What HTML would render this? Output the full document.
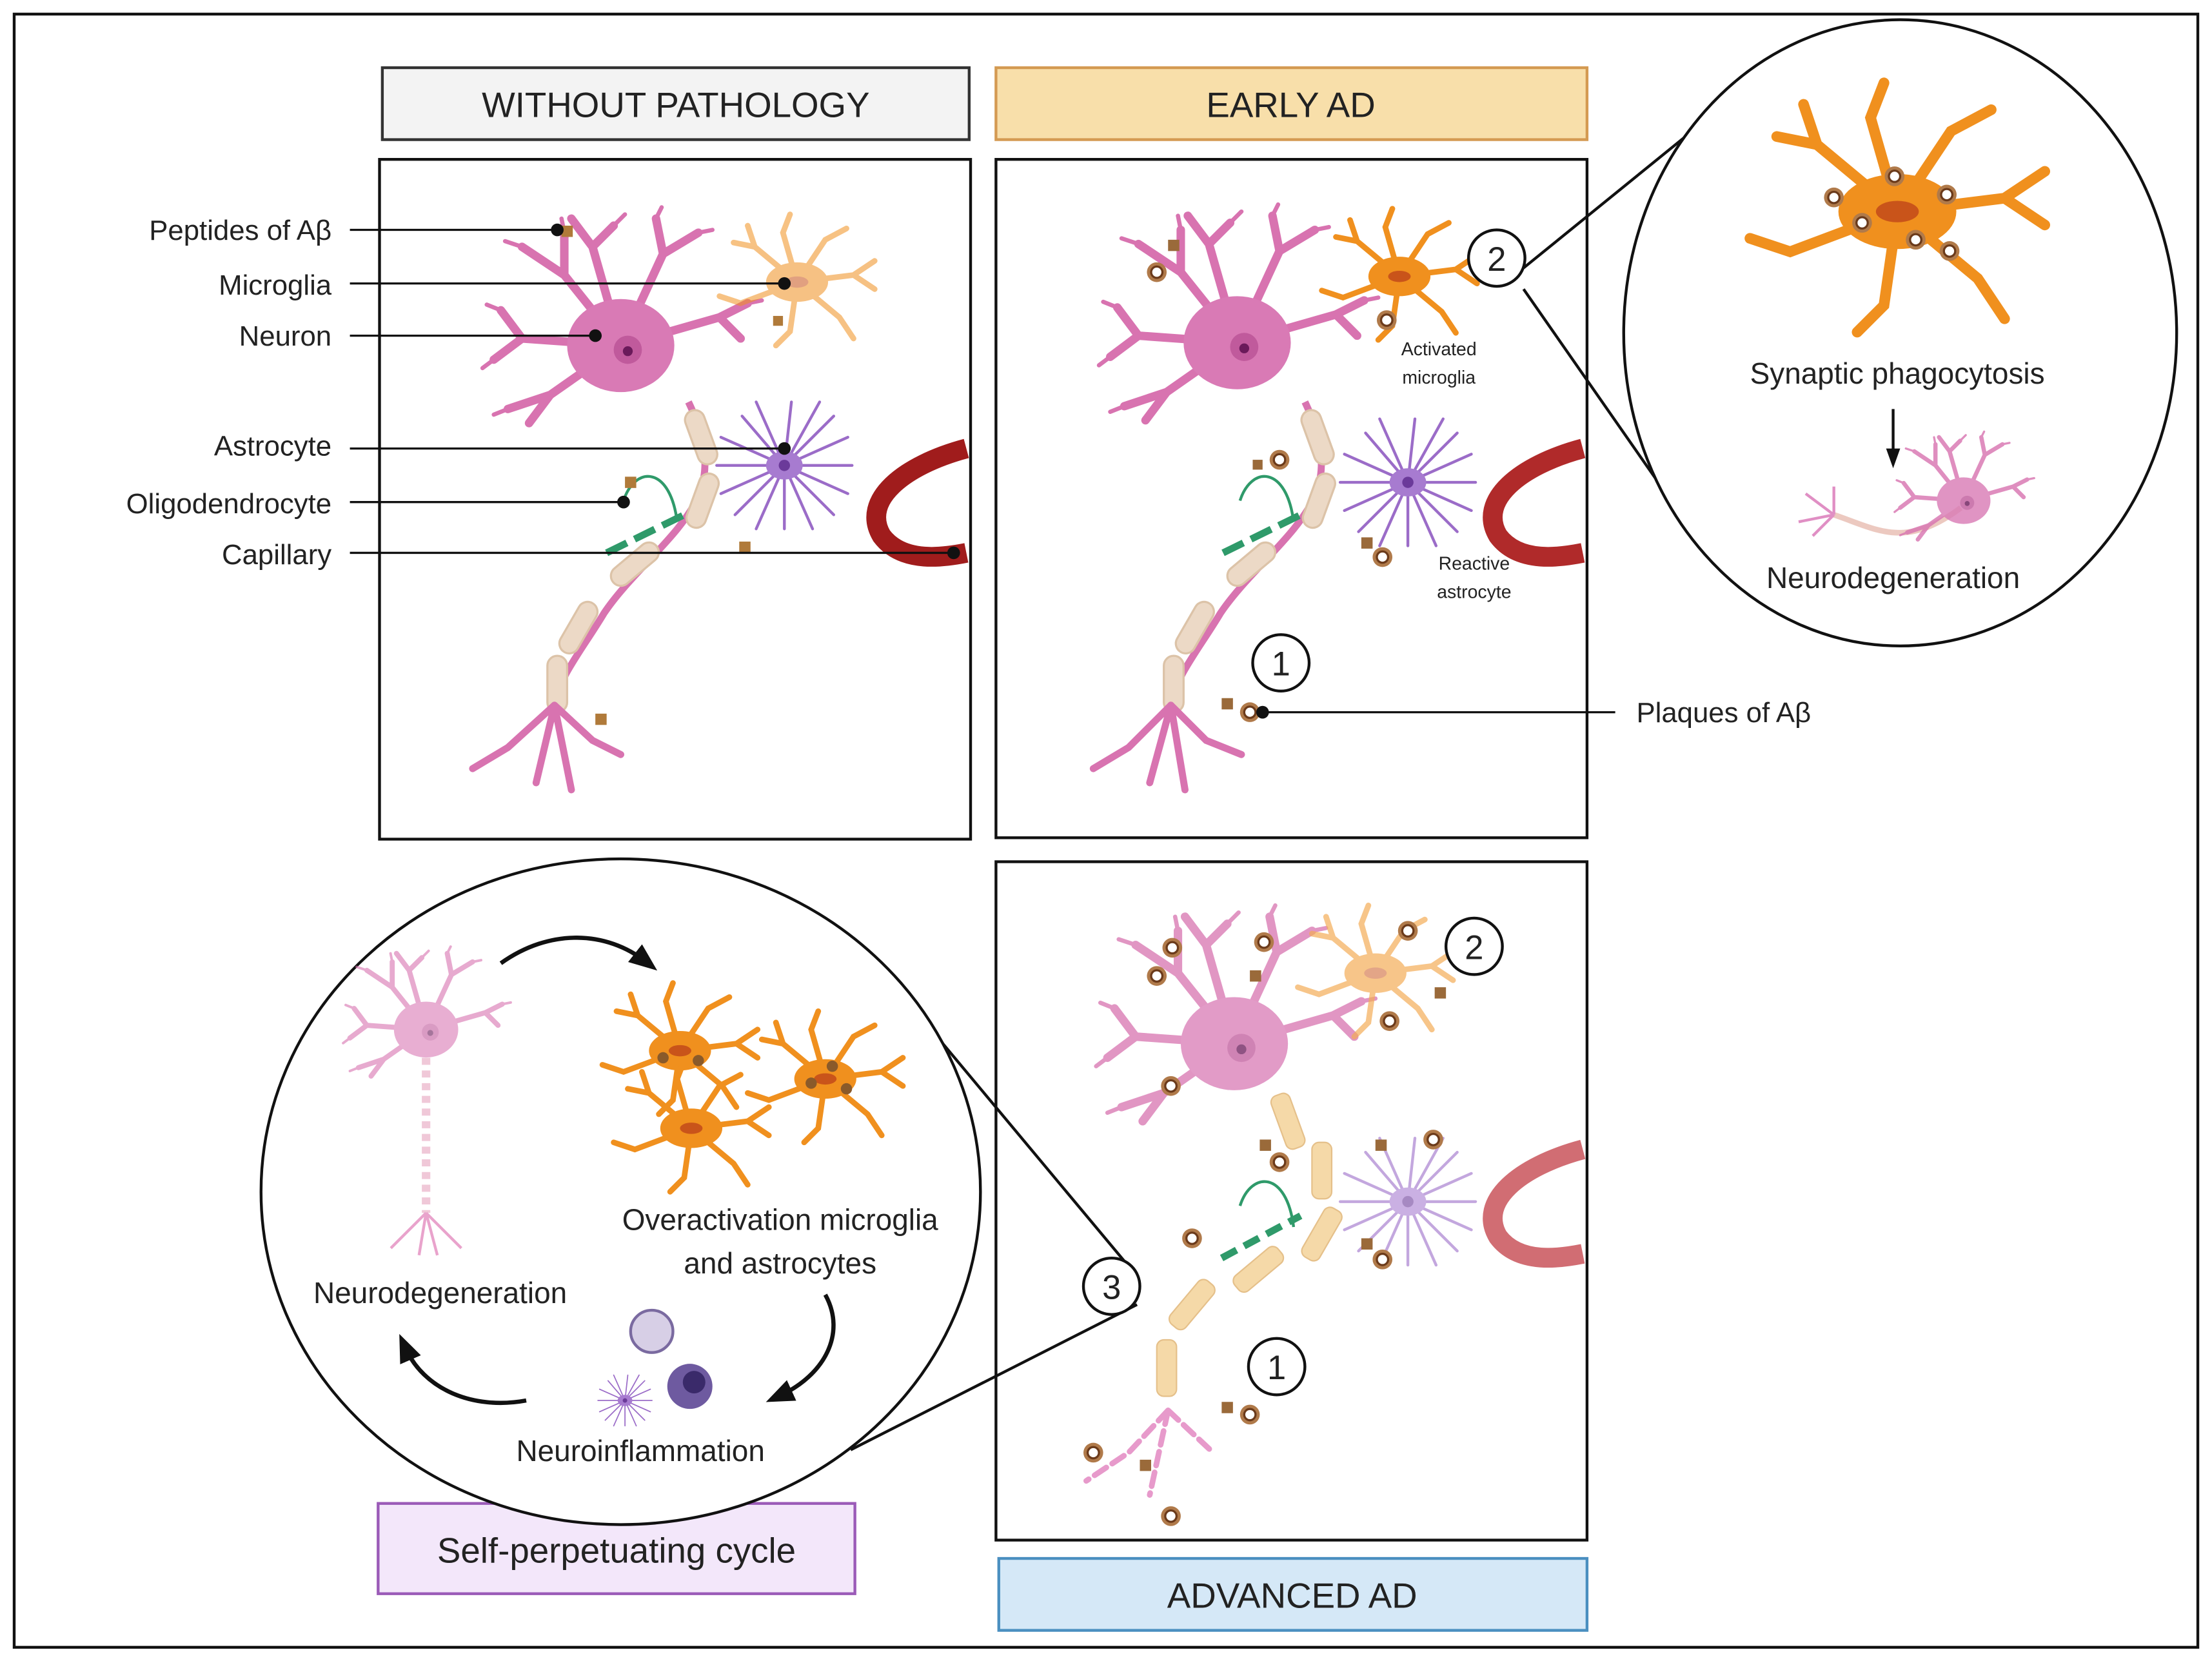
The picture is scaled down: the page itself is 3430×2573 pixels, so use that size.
<!DOCTYPE html>
<html><head><meta charset="utf-8"><style>
html,body{margin:0;padding:0;background:#fff}
svg{display:block}
text{font-family:"Liberation Sans",sans-serif;fill:#222}
</style></head><body>
<svg width="3430" height="2573" viewBox="0 0 1568 1176.3" xmlns="http://www.w3.org/2000/svg">
<defs>
<g id="neuron">
 <g stroke="#d873b0" stroke-linecap="round" fill="none">
  <path d="M0,0 L-40,-50 L-70,-70 M-40,-50 L-40,-80 M0,0 L-20,-70 L-5,-85 M-20,-70 L-35,-90 M0,0 L30,-65 L25,-90 M30,-65 L55,-80 M0,0 L70,-20 L90,-30 M70,-20 L85,-5 M0,0 L-70,-5 L-90,10 M-70,-5 L-85,-25 M0,0 L-50,35 L-80,45 M-50,35 L-65,55" stroke-width="6"/>
  <path d="M-70,-70 l-12,-4 M-40,-80 l-2,-10 M-5,-85 l8,-8 M25,-90 l4,-8 M55,-80 l10,-2 M90,-30 l10,-2 M-90,10 l-8,6 M-85,-25 l-10,-4 M-80,45 l-10,4" stroke-width="3"/>
 </g>
 <ellipse cx="0" cy="0" rx="38" ry="33" fill="#d97ab5"/>
 <circle cx="5" cy="3" r="10" fill="#c05a9c"/>
 <circle cx="5" cy="4" r="3.5" fill="#6a1a5a"/>
</g>
<g id="micro">
 <g stroke="#f0901e" stroke-width="4" stroke-linecap="round" fill="none">
  <path d="M0,0 L-30,-25 L-45,-28 M-30,-25 L-35,-40 M0,0 L-10,-35 L-5,-48 M0,0 L20,-30 L35,-38 M0,0 L40,-5 L55,-15 M40,-5 L55,5 M0,0 L30,25 L40,40 M0,0 L-5,35 L-15,45 M0,0 L-40,15 L-55,10"/>
 </g>
 <ellipse cx="0" cy="0" rx="22" ry="14" fill="#f0901e"/>
 <ellipse cx="0" cy="0" rx="8" ry="4" fill="#c9541a"/>
</g>
<g id="astro">
 <g stroke="#9b6cc8" stroke-width="2" stroke-linecap="round" fill="none">
  <path d="M0,0 L-30,-35 M0,0 L5,-45 M0,0 L35,-35 M0,0 L48,0 M0,0 L35,35 M0,0 L0,45 M0,0 L-35,35 M0,0 L-48,0 M0,0 L-20,-45 M0,0 L25,-45 M0,0 L45,-20 M0,0 L45,20 M0,0 L20,45 M0,0 L-20,45 M0,0 L-45,20 M0,0 L-45,-20"/>
 </g>
 <ellipse cx="0" cy="0" rx="13" ry="10" fill="#a77bd0"/>
 <circle cx="0" cy="0" r="4" fill="#6b3a9a"/>
</g>
<g id="plaque"><circle r="7" fill="#b07a4a"/><circle r="4" fill="#fff" stroke="#6b3a1a" stroke-width="1.5"/></g>
<g id="axon">
 <path d="M0,0 C12,25 15,45 8,65 C-5,95 -40,120 -60,150 C-75,175 -92,195 -95,215" stroke="#d873b0" stroke-width="5" fill="none"/>
 <g fill="#ecd9c6" stroke="#dcc3a8" stroke-width="1.5">
  <rect x="2" y="5" width="14" height="40" rx="7" transform="rotate(-20 9 25)"/>
  <rect x="3" y="50" width="14" height="40" rx="7" transform="rotate(20 10 70)"/>
  <rect x="-45" y="95" width="14" height="40" rx="7" transform="rotate(50 -38 115)"/>
  <rect x="-85" y="140" width="14" height="40" rx="7" transform="rotate(30 -78 160)"/>
  <rect x="-100" y="180" width="14" height="40" rx="7"/>
 </g>
</g>
<marker id="ah" markerUnits="userSpaceOnUse" markerWidth="20" markerHeight="20" refX="10" refY="10" orient="auto"><path d="M0,2 L20,10 L0,18 z" fill="#111"/></marker>
<marker id="ah2" markerUnits="userSpaceOnUse" markerWidth="14" markerHeight="14" refX="7" refY="7" orient="auto"><path d="M0,2 L14,7 L0,12 z" fill="#111"/></marker>
</defs>

<rect x="10" y="10" width="1548" height="1158" fill="#fff" stroke="#111" stroke-width="2"/>

<!-- headers -->
<rect x="271" y="48" width="416" height="51" fill="#f3f3f3" stroke="#333" stroke-width="2"/>
<text x="479" y="83" font-size="25" text-anchor="middle">WITHOUT PATHOLOGY</text>
<rect x="706" y="48" width="419" height="51" fill="#f8dfaa" stroke="#d49a52" stroke-width="2"/>
<text x="915" y="83" font-size="25" text-anchor="middle">EARLY AD</text>
<rect x="708" y="1105" width="417" height="51" fill="#d5e8f7" stroke="#4a8fc0" stroke-width="2"/>
<text x="916" y="1140" font-size="25" text-anchor="middle">ADVANCED AD</text>
<rect x="268" y="1066" width="338" height="64" fill="#f3e7fa" stroke="#9b5bb8" stroke-width="2"/>
<text x="437" y="1108" font-size="25" text-anchor="middle">Self-perpetuating cycle</text>

<!-- panels -->
<rect x="269" y="113" width="419" height="482" fill="#fff" stroke="#111" stroke-width="2"/>
<rect x="706" y="113" width="419" height="481" fill="#fff" stroke="#111" stroke-width="2"/>
<rect x="706" y="611" width="419" height="481" fill="#fff" stroke="#111" stroke-width="2"/>

<!-- panel 1 contents -->
<use href="#axon" x="488" y="285"/>
<g stroke="#d873b0" stroke-width="5" fill="none" stroke-linecap="round"><path d="M393,500 L360,530 L335,545 M393,500 L380,555 M393,500 L420,525 L440,535 M393,500 L405,560"/></g>
<use href="#neuron" x="440" y="245"/>
<use href="#micro" x="565" y="200" opacity="0.55"/>
<use href="#astro" x="556" y="330"/>
<path d="M685,318 C640,330 610,355 625,380 C640,400 670,395 685,392" stroke="#a01c1c" stroke-width="14" fill="none"/>
<path d="M430,392 L485,365" stroke="#2f9a6a" stroke-width="5" stroke-dasharray="16,6"/>
<path d="M442,355 C450,330 475,330 480,370" stroke="#2f9a6a" stroke-width="2" fill="none"/>
<rect x="398" y="160" width="8" height="8" fill="#b07a3a"/><rect x="548" y="224" width="7" height="7" fill="#b07a3a"/>
<rect x="443" y="338" width="8" height="8" fill="#b07a3a"/><rect x="524" y="384" width="8" height="8" fill="#b07a3a"/><rect x="422" y="506" width="8" height="8" fill="#b07a3a"/>

<!-- labels -->
<g font-size="20" text-anchor="end">
<text x="235" y="170">Peptides of Aβ</text>
<text x="235" y="209">Microglia</text>
<text x="235" y="245">Neuron</text>
<text x="235" y="323">Astrocyte</text>
<text x="235" y="364">Oligodendrocyte</text>
<text x="235" y="400">Capillary</text>
</g>
<g stroke="#111" stroke-width="1.5">
<line x1="248" y1="163" x2="395" y2="163"/><line x1="248" y1="201" x2="556" y2="201"/><line x1="248" y1="238" x2="422" y2="238"/>
<line x1="248" y1="318" x2="556" y2="318"/><line x1="248" y1="356" x2="442" y2="356"/><line x1="248" y1="392" x2="676" y2="392"/>
</g>
<g fill="#111"><circle cx="395" cy="163" r="4.5"/><circle cx="556" cy="201" r="4.5"/><circle cx="422" cy="238" r="4.5"/><circle cx="556" cy="318" r="4.5"/><circle cx="442" cy="356" r="4.5"/><circle cx="676" cy="392" r="4.5"/></g>

<!-- panel 2 contents -->
<use href="#axon" x="925" y="285"/>
<g stroke="#d873b0" stroke-width="5" fill="none" stroke-linecap="round"><path d="M830,500 L800,530 L775,545 M830,500 L815,555 M830,500 L855,525 L880,535 M830,500 L840,560"/></g>
<use href="#neuron" x="877" y="243"/>
<use href="#micro" x="992" y="196"/>
<use href="#astro" x="998" y="342"/>
<path d="M1122,318 C1077,330 1047,355 1062,380 C1077,400 1107,395 1122,392" stroke="#b02a2a" stroke-width="14" fill="none"/>
<path d="M867,392 L922,365" stroke="#2f9a6a" stroke-width="5" stroke-dasharray="16,6"/>
<path d="M879,355 C887,330 912,330 917,370" stroke="#2f9a6a" stroke-width="2" fill="none"/>
<use href="#plaque" x="820" y="193"/><use href="#plaque" x="983" y="227"/><use href="#plaque" x="907" y="326"/><use href="#plaque" x="980" y="395"/><use href="#plaque" x="886" y="505"/>
<rect x="828" y="170" width="8" height="8" fill="#9a6a3a"/><rect x="888" y="326" width="7" height="7" fill="#9a6a3a"/><rect x="965" y="381" width="8" height="8" fill="#9a6a3a"/><rect x="866" y="495" width="8" height="8" fill="#9a6a3a"/>
<text x="1020" y="252" font-size="13" text-anchor="middle" fill="#444">Activated</text>
<text x="1020" y="272" font-size="13" text-anchor="middle" fill="#444">microglia</text>
<text x="1045" y="404" font-size="13" text-anchor="middle" fill="#444">Reactive</text>
<text x="1045" y="424" font-size="13" text-anchor="middle" fill="#444">astrocyte</text>
<circle cx="1061" cy="183" r="20" fill="#fff" stroke="#111" stroke-width="2"/><text x="1061" y="192" font-size="24" text-anchor="middle">2</text>
<circle cx="908" cy="470" r="20" fill="#fff" stroke="#111" stroke-width="2"/><text x="908" y="479" font-size="24" text-anchor="middle">1</text>
<line x1="895" y1="505" x2="1145" y2="505" stroke="#111" stroke-width="1.5"/><circle cx="895" cy="505" r="4.5" fill="#111"/>
<text x="1160" y="512" font-size="20">Plaques of Aβ</text>

<!-- right circle -->
<line x1="1080" y1="190" x2="1250" y2="52" stroke="#111" stroke-width="2"/>
<line x1="1080" y1="205" x2="1195" y2="370" stroke="#111" stroke-width="2"/>
<ellipse cx="1347" cy="236" rx="196" ry="222" fill="#fff" stroke="#111" stroke-width="2"/>
<g transform="translate(1345,150) scale(1.9)"><use href="#micro"/></g>
<use href="#plaque" x="1343" y="125"/><use href="#plaque" x="1380" y="138"/><use href="#plaque" x="1320" y="158"/><use href="#plaque" x="1358" y="170"/><use href="#plaque" x="1382" y="178"/><use href="#plaque" x="1300" y="140"/>
<text x="1345" y="272" font-size="21" text-anchor="middle">Synaptic phagocytosis</text>
<line x1="1342" y1="290" x2="1342" y2="325" stroke="#111" stroke-width="2" marker-end="url(#ah2)"/>
<path d="M1300,365 C1330,375 1350,390 1390,360" stroke="#ecc9c0" stroke-width="4" fill="none"/>
<g transform="translate(1392,355) scale(0.5)" opacity="0.8"><use href="#neuron"/></g>
<g stroke="#e08fc4" stroke-width="2" fill="none"><path d="M1300,365 l-20,-15 M1300,365 l-25,5 M1300,365 l-15,15 M1300,365 l0,-20"/></g>
<text x="1342" y="417" font-size="21" text-anchor="middle">Neurodegeneration</text>

<!-- panel 3 -->
<g opacity="0.75">
<use href="#neuron" x="875" y="740"/>
<use href="#micro" x="975" y="690" opacity="0.7"/>
<use href="#astro" x="998" y="852" opacity="0.8"/>
</g>
<g fill="#f5d9a8" stroke="#e5c08a">
<rect x="906" y="775" width="14" height="40" rx="5" transform="rotate(-20 913 795)"/>
<rect x="930" y="810" width="14" height="40" rx="5"/>
<rect x="930" y="855" width="14" height="40" rx="5" transform="rotate(30 937 875)"/>
<rect x="885" y="880" width="14" height="40" rx="5" transform="rotate(50 892 900)"/>
<rect x="838" y="905" width="14" height="40" rx="5" transform="rotate(40 845 925)"/>
<rect x="820" y="950" width="14" height="40" rx="5"/>
</g>
<path d="M1122,815 C1077,827 1047,852 1062,877 C1077,897 1107,892 1122,889" stroke="#c9545a" stroke-width="14" fill="none" opacity="0.85"/>
<g stroke="#e79acb" stroke-width="4" fill="none" stroke-linecap="round" stroke-dasharray="10,5"><path d="M828,1000 L800,1030 L770,1050 M828,1000 L815,1060 M828,1000 L860,1030"/></g>
<path d="M866,892 L922,862" stroke="#2f9a6a" stroke-width="5" stroke-dasharray="12,6"/>
<path d="M879,855 C887,830 912,830 917,870" stroke="#2f9a6a" stroke-width="2" fill="none"/>
<use href="#plaque" x="831" y="672"/><use href="#plaque" x="896" y="668"/><use href="#plaque" x="998" y="660"/><use href="#plaque" x="985" y="724"/><use href="#plaque" x="820" y="692"/><use href="#plaque" x="830" y="770"/><use href="#plaque" x="907" y="824"/><use href="#plaque" x="1016" y="808"/><use href="#plaque" x="980" y="893"/><use href="#plaque" x="845" y="878"/><use href="#plaque" x="886" y="1003"/><use href="#plaque" x="775" y="1030"/><use href="#plaque" x="830" y="1075"/>
<rect x="886" y="688" width="8" height="8" fill="#9a6a3a"/><rect x="1017" y="700" width="8" height="8" fill="#9a6a3a"/><rect x="893" y="808" width="8" height="8" fill="#9a6a3a"/><rect x="975" y="808" width="8" height="8" fill="#9a6a3a"/><rect x="965" y="878" width="8" height="8" fill="#9a6a3a"/><rect x="866" y="994" width="8" height="8" fill="#9a6a3a"/><rect x="808" y="1035" width="8" height="8" fill="#9a6a3a"/>
<circle cx="1045" cy="671" r="20" fill="#fff" stroke="#111" stroke-width="2"/><text x="1045" y="680" font-size="24" text-anchor="middle">2</text>
<circle cx="905" cy="969" r="20" fill="#fff" stroke="#111" stroke-width="2"/><text x="905" y="978" font-size="24" text-anchor="middle">1</text>

<!-- left circle -->
<line x1="650" y1="718" x2="806" y2="905" stroke="#111" stroke-width="2"/>
<line x1="603" y1="1028" x2="806" y2="925" stroke="#111" stroke-width="2"/>
<ellipse cx="440" cy="845" rx="255" ry="236" fill="#fff" stroke="#111" stroke-width="2"/>
<circle cx="788" cy="912" r="20" fill="#fff" stroke="#111" stroke-width="2"/><text x="788" y="921" font-size="24" text-anchor="middle">3</text>
<g transform="translate(302,730) scale(0.6)" opacity="0.6"><use href="#neuron"/></g>
<line x1="302" y1="750" x2="302" y2="860" stroke="#f0c8d8" stroke-width="6" stroke-dasharray="5,4"/>
<g stroke="#e9a3cc" stroke-width="2" fill="none"><path d="M302,860 l-25,25 M302,860 l25,25 M302,860 l-5,30 M302,860 l8,30"/></g>
<use href="#micro" x="482" y="745"/><use href="#micro" x="585" y="765"/><use href="#micro" x="490" y="800"/>
<g fill="#8a5a2a"><circle cx="470" cy="750" r="4"/><circle cx="495" cy="752" r="4"/><circle cx="575" cy="768" r="4"/><circle cx="600" cy="772" r="4"/><circle cx="590" cy="756" r="4"/></g>
<text x="553" y="872" font-size="21" text-anchor="middle">Overactivation microglia</text>
<text x="553" y="903" font-size="21" text-anchor="middle">and astrocytes</text>
<text x="312" y="924" font-size="21" text-anchor="middle">Neurodegeneration</text>
<text x="454" y="1036" font-size="21" text-anchor="middle">Neuroinflammation</text>
<circle cx="462" cy="944" r="15" fill="#d7cfe6" stroke="#7a6aa0" stroke-width="2"/>
<circle cx="489" cy="983" r="16" fill="#6e5aa0"/><circle cx="492" cy="980" r="8" fill="#3a2a6a"/>
<g transform="translate(443,993) scale(0.4)"><use href="#astro"/></g>
<path d="M355,683 C390,658 430,660 458,682" stroke="#111" stroke-width="3" fill="none" marker-end="url(#ah)"/>
<path d="M585,918 C600,945 585,975 552,990" stroke="#111" stroke-width="3" fill="none" marker-end="url(#ah)"/>
<path d="M373,993 C335,1000 300,985 287,955" stroke="#111" stroke-width="3" fill="none" marker-end="url(#ah)"/>
</svg>
</body></html>
